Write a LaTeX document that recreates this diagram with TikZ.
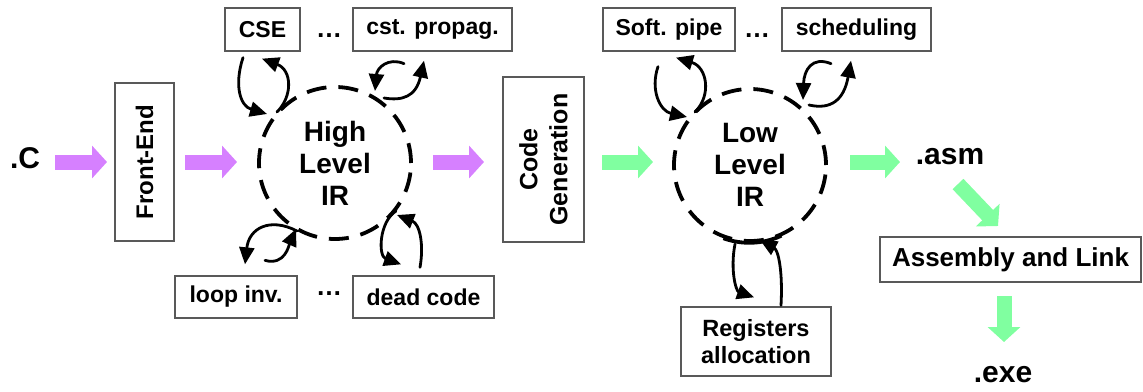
\documentclass[tikz,border=0pt]{standalone}
\usepackage{fontspec}
\setmainfont{Liberation Sans}
\usetikzlibrary{arrows.meta,calc}
\definecolor{vio}{RGB}{214,128,255}
\definecolor{grn}{RGB}{128,255,160}
\begin{document}
\begin{tikzpicture}[x=1pt,y=-1pt,
  lbl/.style={font=\bfseries\fontsize{23}{27}\selectfont},
  big/.style={font=\bfseries\fontsize{30}{34}\selectfont, inner sep=0},
  box/.style={draw=black!65, line width=1.3pt, inner sep=0, align=center, lbl},
  irc/.style={circle, draw, line width=3.8pt, dash pattern=on 20pt off 12pt, minimum size=152pt, inner sep=0, align=center, font=\bfseries\fontsize{28}{32}\selectfont},
  loopar/.style={line width=2.8pt, line cap=round, -{Triangle[length=17pt,width=15pt]}},
  fat/.style={line width=15pt, -{Triangle[length=15pt,width=32pt]}},
  vfat/.style={fat, draw=vio},
  gfat/.style={fat, draw=grn},
]
\useasboundingbox (0,0) rectangle (1143,391);

% nodes
\node[big] (c) at (25,158) {.C};
\node[box, rotate=90, minimum width=158pt, minimum height=59pt, font=\bfseries\fontsize{24}{28}\selectfont] (fe) at (144.5,162) {Front-End};
\node[irc] (hl) at (335,163) {High\\Level\\IR};
\node[box, rotate=90, minimum width=165pt, minimum height=81pt, font=\bfseries\fontsize{25}{30}\selectfont] (cg) at (543.5,159.5) {Code\\Generation};
\node[irc] (ll) at (750,165) {Low\\Level\\IR};

\node[box, minimum width=75pt, minimum height=43pt] (cse) at (262.5,29.5) {CSE};
\node[lbl, font=\bfseries\fontsize{26}{30}\selectfont] (d1) at (329,36) {…};
\node[box, minimum width=159pt, minimum height=43pt] (cst) at (432.5,29.5) {cst. propag.};
\node[box, minimum width=122pt, minimum height=42pt] (li) at (236,297) {loop inv.};
\node[lbl, font=\bfseries\fontsize{26}{30}\selectfont] (d2) at (329,294) {…};
\node[box, minimum width=141pt, minimum height=42pt] (dc) at (423.5,297) {dead code};
\node[box, minimum width=132pt, minimum height=43pt] (sp) at (669,29.5) {Soft. pipe};
\node[lbl, font=\bfseries\fontsize{26}{30}\selectfont] (d3) at (757,36) {…};
\node[box, minimum width=149pt, minimum height=43pt] (sch) at (856.5,29.5) {scheduling};
\node[box, minimum width=150pt, minimum height=69pt, font=\bfseries\fontsize{23.5}{27}\selectfont] (reg) at (756,341.5) {Registers\\allocation};
\node[big] (asm) at (950,157) {.asm};
\node[box, minimum width=261pt, minimum height=45pt, font=\bfseries\fontsize{26}{30}\selectfont] (al) at (1010.5,259.5) {Assembly and Link};
\node[big] (exe) at (1003,375) {.exe};

% fat arrows
\coordinate (p1s) at (55,162);  \coordinate (p1e) at (107,162);
\coordinate (p2s) at (185,162); \coordinate (p2e) at (237,162);
\coordinate (p3s) at (433,162); \coordinate (p3e) at (484,162);
\coordinate (g1s) at (602,162); \coordinate (g1e) at (653,162);
\coordinate (g2s) at (850,162); \coordinate (g2e) at (900,162);
\coordinate (g3s) at (958,184); \coordinate (g3e) at (998,226);
\coordinate (g4s) at (1004,296); \coordinate (g4e) at (1004,342);
\draw[vfat] (p1s) -- (p1e);
\draw[vfat] (p2s) -- (p2e);
\draw[vfat] (p3s) -- (p3e);
\draw[gfat] (g1s) -- (g1e);
\draw[gfat] (g2s) -- (g2e);
\draw[gfat] (g3s) -- (g3e);
\draw[gfat] (g4s) -- (g4e);

% loops: CSE
\draw[loopar] ($(cse.south)+(-19.5,6)$) .. controls (234,85) and (240,106) .. ($(hl.center)+(-68,-49)$);
\draw[loopar] ($(hl.center)+(-58,-51)$) .. controls (293,96) and (292,70) .. ($(cse.south)+(-0.5,7)$);
% cst. propag.
\draw[loopar] ($(cst.south)+(-28.5,12)$) .. controls (388,57) and (377,68) .. ($(hl.center)+(40,-72)$);
\draw[loopar] ($(hl.center)+(49,-65)$) .. controls (402,101) and (416,97) .. ($(cst.south)+(-8.5,9)$);
% loop inv.
\draw[loopar] ($(hl.center)+(-38,68)$) .. controls (270,217) and (249,228) .. ($(li.north)+(9,-11)$);
\draw[loopar] ($(li.north)+(29,-15)$) .. controls (285,266) and (289,245) .. ($(hl.center)+(-39,66)$);
% dead code
\draw[loopar] ($(hl.center)+(61,48)$) .. controls (379,222) and (378,256) .. ($(dc.north)+(-22.5,-11)$);
\draw[loopar] ($(dc.north)+(-3.5,-8)$) .. controls (424,245) and (420,224) .. ($(hl.center)+(62,52)$);
% Soft. pipe
\draw[loopar] ($(sp.south)+(-11,15)$) .. controls (650,90) and (660,111) .. ($(ll.center)+(-63,-48)$);
\draw[loopar] ($(ll.center)+(-55,-53)$) .. controls (712,95) and (707,67) .. ($(sp.south)+(7,6)$);
% scheduling
\draw[loopar] ($(sch.south)+(-25.5,12)$) .. controls (812,56) and (804,70) .. ($(ll.center)+(53,-65)$);
\draw[loopar] ($(ll.center)+(59,-60)$) .. controls (831,110) and (844,100) .. ($(sch.south)+(-5.5,9)$);
% Registers allocation
\draw[line width=3.8pt] (ll.250) arc[start angle=250, end angle=295, radius=76pt];
\draw[loopar] ($(ll.center)+(-15,79)$) .. controls (730,270) and (736,291) .. ($(reg.north)+(-2,-9)$);
\draw[loopar] ($(reg.north)+(25,-1)$) .. controls (783,270) and (778,250) .. ($(ll.center)+(10,75)$);
\end{tikzpicture}
\end{document}
